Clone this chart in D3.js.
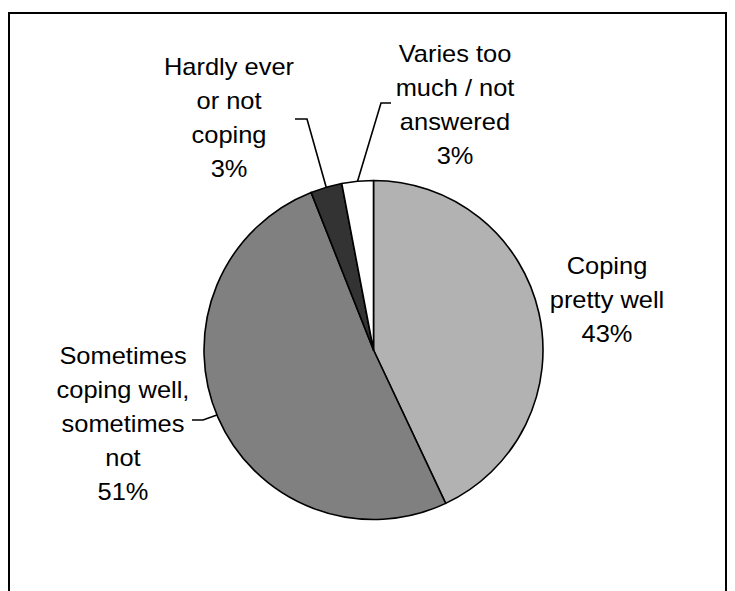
<!DOCTYPE html>
<html>
<head>
<meta charset="utf-8">
<script src="https://cdn.jsdelivr.net/npm/d3@7"></script>
<style>
  html, body { margin: 0; padding: 0; background: #fff; }
  svg { display: block; }
  text { font-family: "Liberation Sans", Arial, sans-serif; font-size: 24px; fill: #000; }
</style>
</head>
<body>
<svg id="chart" width="735" height="591"></svg>
<script>
// Survey answers, clockwise from 12 o'clock
const categories = [
  "Coping pretty well",
  "Sometimes coping well, sometimes not",
  "Hardly ever or not coping",
  "Varies too much / not answered"
];
const shares = [43, 51, 3, 3];
const sliceColors = ["#b2b2b2", "#808080", "#333333", "#ffffff"];

// Label text lines for each slice (the last line is the percentage)
const labelLines = [
  ["Coping", "pretty well"],
  ["Sometimes", "coping well,", "sometimes", "not"],
  ["Hardly ever", "or not", "coping"],
  ["Varies too", "much / not", "answered"]
];

const svg = d3.select("#chart");
const W = 735, H = 591;

// Outer frame (bottom edge runs past the visible area)
svg.append("rect")
  .attr("x", 9).attr("y", 13)
  .attr("width", 717).attr("height", 620)
  .attr("fill", "none").attr("stroke", "#000").attr("stroke-width", 2);

const cx = 373.5, cy = 350, r = 169.5;

const pie = d3.pie().sort(null).value(d => d)
  .startAngle(0).endAngle(2 * Math.PI);
const arcs = pie(shares);
const arc = d3.arc().innerRadius(0).outerRadius(r);

const g = svg.append("g").attr("transform", `translate(${cx},${cy})`);
g.selectAll("path.slice")
  .data(arcs)
  .join("path")
  .attr("class", "slice")
  .attr("d", arc)
  .attr("fill", (d, i) => sliceColors[i])
  .attr("stroke", "#000")
  .attr("stroke-width", 1.6)
  .attr("stroke-linejoin", "round");

// Label placement: centre x, first baseline y
const labelPos = [
  { x: 607, y: 274 },
  { x: 123, y: 364 },
  { x: 229, y: 75 },
  { x: 455, y: 62 }
];
const lineGap = 34;

arcs.forEach((a, i) => {
  const lines = labelLines[i].concat([shares[i] + "%"]);
  const p = labelPos[i];
  const t = svg.append("g")
    .attr("transform", `translate(${p.x},${p.y}) scale(1.06,1)`);
  lines.forEach((ln, k) => {
    t.append("text")
      .attr("x", 0).attr("y", k * lineGap)
      .attr("text-anchor", "middle")
      .text(ln);
  });
});

// Leader lines: from the label side to a point on the rim of the slice
function rimPoint(angle) {
  return [cx + r * Math.sin(angle), cy - r * Math.cos(angle)];
}
const leaders = [
  null,
  { start: [192, 420], elbow: [203, 420], angle: 2 * Math.PI - Math.acos((415 - cy) / -r) },
  { start: [295, 119], elbow: [307, 119], angle: (arcs[2].startAngle + arcs[2].endAngle) / 2 },
  { start: [391, 103], elbow: [381, 103], angle: (arcs[3].startAngle + arcs[3].endAngle) / 2 }
];
leaders.forEach((L, i) => {
  if (!L) return;
  const end = rimPoint(L.angle);
  svg.append("path")
    .attr("d", d3.line()([L.start, L.elbow, end]))
    .attr("fill", "none")
    .attr("stroke", "#000")
    .attr("stroke-width", 1.6);
});
</script>
</body>
</html>
